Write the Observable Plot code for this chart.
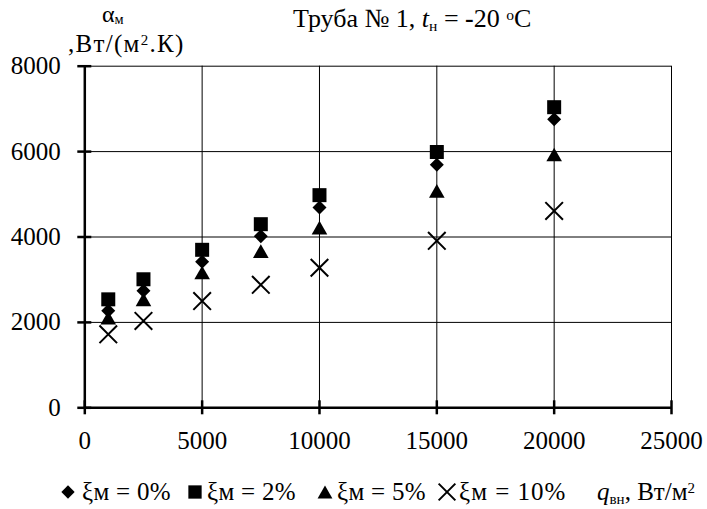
<!DOCTYPE html>
<html><head><meta charset="utf-8">
<script src="https://cdn.jsdelivr.net/npm/d3@7"></script>
<script src="https://cdn.jsdelivr.net/npm/@observablehq/plot@0.6"></script>
<style>
body{margin:0;background:#fff;}
#wrap{position:relative;width:707px;height:509px;font-family:'Liberation Serif','Times New Roman',Tinos,'DejaVu Serif','Noto Serif',serif;color:#000;overflow:hidden;background:#fff}
.t{position:absolute;white-space:nowrap;line-height:1;}
.sub{font-size:0.6em;position:relative;top:0.25em;}
.sup{font-size:0.6em;position:relative;top:-0.45em;}
#head{position:relative;height:55px}
#chart{height:405px}
#legend{position:relative;height:49px}
#chart svg{overflow:visible}
</style></head><body>
<div id="wrap">
 <div id="head">
  <div class="t" style="left:293px;top:6px;font-size:26px">Труба № 1, <i>t</i><span class="sub">н</span> = <b>-</b>20 <span class="sup">o</span>C</div>
  <div class="t" style="left:102px;top:2px;font-size:24px">α<span class="sub" style="top:0.15em">м</span></div>
  <div class="t" style="left:68px;top:31px;font-size:25px;letter-spacing:1.3px">,Вт/(м<span class="sup">2</span>.К)</div>
 </div>
 <div id="chart"></div>
 <div id="legend"></div>
</div>
<script>
// ---- data ----
const qValues = [1000, 2500, 5000, 7500, 10000, 15000, 20000];
const alpha0  = [2270, 2740, 3420, 4020, 4690, 5690, 6760];
const alpha2  = [2540, 3010, 3700, 4300, 4980, 5990, 7040];
const alpha5  = [2110, 2540, 3170, 3670, 4220, 5080, 5930];
const alpha10 = [1720, 2035, 2500, 2880, 3280, 3910, 4610];
const xTicks = [0, 5000, 10000, 15000, 20000, 25000];
const yTicks = [0, 2000, 4000, 6000, 8000];
const legendLabels = ["ξм = 0%", "ξм = 2%", "ξм = 5%", "ξм = 10%"];

const FONT = "'Liberation Serif','Times New Roman',Tinos,'DejaVu Serif','Noto Serif',serif";

// ---- symbols (centered in their box, size -> half extent) ----
const half = (size) => Math.sqrt(size / Math.PI);
const symDiamond = {draw(c, size){ const h = half(size); c.moveTo(0,-h); c.lineTo(h,0); c.lineTo(0,h); c.lineTo(-h,0); c.closePath(); }};
const symSquare = {draw(c, size){ const h = half(size); c.moveTo(-h,-h); c.lineTo(h,-h); c.lineTo(h,h); c.lineTo(-h,h); c.closePath(); }};
const symTriangle = {draw(c, size){ const h = half(size); c.moveTo(0,-h*0.87); c.lineTo(h,h*0.87); c.lineTo(-h,h*0.87); c.closePath(); }};
const symTimes = {draw(c, size){ const h = half(size); c.moveTo(-h,-h); c.lineTo(h,h); c.moveTo(h,-h); c.lineTo(-h,h); }};

const seriesDefs = [
  {values: alpha0,  symbol: symDiamond,  r: 7,   fill: "#000", stroke: "none", sw: 0},
  {values: alpha2,  symbol: symSquare,   r: 7,   fill: "#000", stroke: "none", sw: 0},
  {values: alpha5,  symbol: symTriangle, r: 7.8, fill: "#000", stroke: "none", sw: 0},
  {values: alpha10, symbol: symTimes,    r: 8.8, fill: "none", stroke: "#000", sw: 2}
];

const dotMarks = seriesDefs.map(s =>
  Plot.dot(qValues.map((q, i) => ({q, a: s.values[i]})), {
    x: "q", y: "a", symbol: s.symbol, r: s.r, fill: s.fill, stroke: s.stroke, strokeWidth: s.sw
  })
);

const chart = Plot.plot({
  width: 707, height: 405,
  marginLeft: 84.3, marginRight: 36, marginTop: 10.7, marginBottom: 52.7,
  style: {fontFamily: FONT, fontSize: "25px", background: "#fff", color: "#000"},
  x: {domain: [0, 25000], label: null},
  y: {domain: [0, 8000], label: null},
  marks: [
    Plot.gridX(xTicks.filter(d => d > 0), {stroke: "#000", strokeOpacity: 1, strokeWidth: 1}),
    Plot.gridY(yTicks.filter(d => d > 0), {stroke: "#000", strokeOpacity: 1, strokeWidth: 1}),
    Plot.ruleX([0], {stroke: "#000", strokeWidth: 2.5}),
    Plot.ruleY([0], {stroke: "#000", strokeWidth: 2.5}),
    Plot.ruleX(xTicks, {y1: 0, y2: 0, insetTop: -7, insetBottom: -7, stroke: "#000", strokeWidth: 2.5}),
    Plot.ruleY(yTicks, {x1: 0, x2: 0, insetLeft: -7, insetRight: -7, stroke: "#000", strokeWidth: 2.5}),
    Plot.axisX(xTicks, {tickSize: 0, tickPadding: 23, tickFormat: d3.format("d"), label: null, fill: "#000", fontFamily: FONT}),
    Plot.axisY(yTicks, {tickSize: 0, tickPadding: 24, tickFormat: d3.format("d"), label: null, fill: "#000", fontFamily: FONT}),
    ...dotMarks
  ]
});
document.getElementById("chart").append(chart);

// ---- legend ----
const legend = d3.select("#legend");
const markerX = [68, 195, 325, 447];
const textX = [82, 207, 337, 459];
seriesDefs.forEach((s, i) => {
  const svg = legend.append("svg").style("position", "absolute")
    .style("left", (markerX[i] - 11) + "px").style("top", (32 - 11) + "px")
    .attr("width", 22).attr("height", 22);
  const p = d3.path();
  s.symbol.draw(p, Math.PI * (s.r * 0.95) ** 2);
  svg.append("path").attr("transform", "translate(11,11)").attr("d", p.toString())
    .attr("fill", s.fill).attr("stroke", s.stroke).attr("stroke-width", s.sw);
  legend.append("div").attr("class", "t").style("left", textX[i] + "px").style("top", "19px")
    .style("font-size", "25px").style("letter-spacing", i === 3 ? "1px" : "0.3px").text(legendLabels[i]);
});
legend.append("div").attr("class", "t").style("left", "597px").style("top", "19px").style("font-size", "25px")
  .html('<i>q</i><span class="sub">вн</span>, Вт/м<span class="sup">2</span>');
</script>
</body></html>
